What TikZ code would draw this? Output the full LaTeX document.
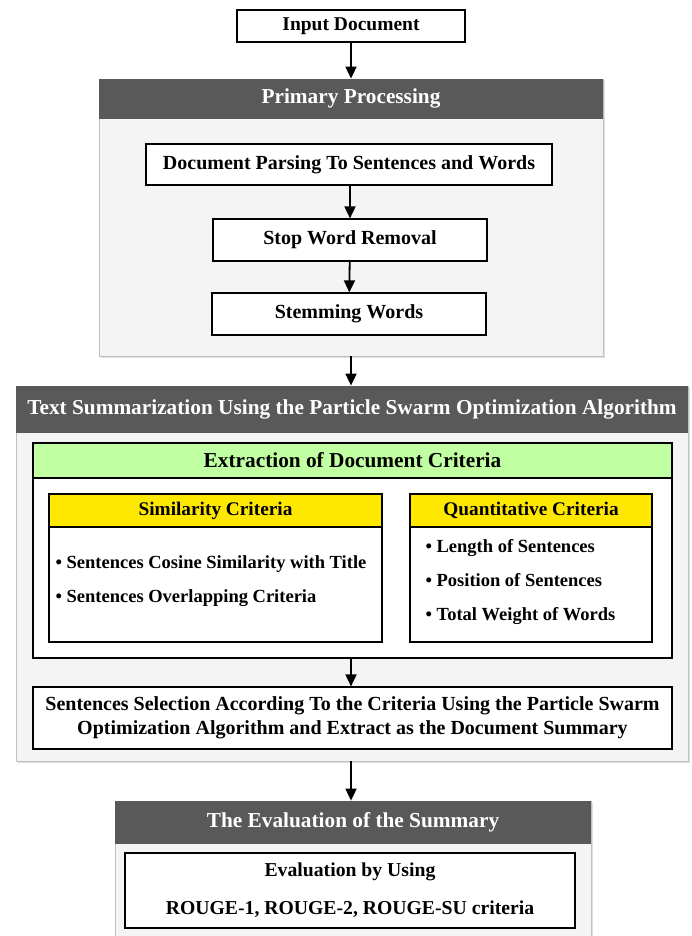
\documentclass[tikz,border=0pt]{standalone}
\usepackage{fontspec}
\setmainfont{Liberation Serif}
\usetikzlibrary{arrows.meta,positioning,shadows}
\definecolor{hdrcol}{HTML}{595959}
\definecolor{grncol}{HTML}{C0FFA2}
\definecolor{ylwcol}{HTML}{FFE800}
\definecolor{pancol}{HTML}{F4F4F4}

\begin{document}
\begin{tikzpicture}[x=1pt, y=-1pt,
  font=\bfseries\fontsize{20}{24}\selectfont,
  box/.style   = {draw, line width=1.2pt, fill=white, align=center, inner sep=0pt,
                  drop shadow={shadow xshift=1pt, shadow yshift=-1pt, opacity=0.3}},
  panel/.style = {draw=black!25, line width=0.8pt, fill=pancol, inner sep=0pt,
                  drop shadow={shadow xshift=1.5pt, shadow yshift=-1.5pt, opacity=0.25}},
  hdr/.style   = {fill=hdrcol, text=white, inner sep=0pt, anchor=north,
                  font=\bfseries\fontsize{21.3}{25}\selectfont},
  subhdr/.style= {draw, line width=1.2pt, inner sep=0pt, anchor=north,
                  font=\bfseries\fontsize{19.3}{23}\selectfont},
  items/.style = {anchor=west, align=left, font=\bfseries\fontsize{18.5}{34}\selectfont},
  arr/.style   = {-{Triangle[length=12pt, width=11pt]}, line width=1.8pt}]
\useasboundingbox (0,0) rectangle (692,936);

% input
\node[box, minimum width=228, minimum height=32, font=\bfseries\fontsize{19.5}{23}\selectfont]
  (inp) at (351,26) {Input Document};

% primary processing
\node[panel, minimum width=504, minimum height=277] (pp) at (351,217.5) {};
\node[hdr, minimum width=504, minimum height=40] (pph) at (pp.north) {Primary Processing};
\node[box, minimum width=406, minimum height=41] (parse) at (349,164.5)
  {Document Parsing To Sentences and Words};
\node[box, minimum width=274, minimum height=42] (stop) at (350,240) {Stop Word Removal};
\node[box, minimum width=274, minimum height=42] (stem) at (349,314) {Stemming Words};

% text summarization
\node[panel, minimum width=672, minimum height=375] (ts) at (352,573.5) {};
\node[hdr, minimum width=672, minimum height=47] (tsh) at (ts.north)
  {Text Summarization Using the Particle Swarm Optimization Algorithm};

\node[box, minimum width=639, minimum height=215] (ext) at (352.5,550.5) {};
\node[subhdr, fill=grncol, minimum width=639, minimum height=35,
      font=\bfseries\fontsize{21.3}{25}\selectfont] (exth) at (ext.north)
  {Extraction of Document Criteria};

\node[box, minimum width=333, minimum height=148] (sim) at (215.5,568) {};
\node[subhdr, fill=ylwcol, minimum width=333, minimum height=33] (simh) at (sim.north)
  {Similarity Criteria};
\node[items] (simtx) at (52,581)
  {• Sentences Cosine Similarity with Title\\ • Sentences Overlapping Criteria};

\node[box, minimum width=242, minimum height=148] (quant) at (531,568) {};
\node[subhdr, fill=ylwcol, minimum width=242, minimum height=33] (quanth) at (quant.north)
  {Quantitative Criteria};
\node[items] (quanttx) at (422,582)
  {• Length of Sentences\\ • Position of Sentences\\ • Total Weight of Words};

\node[box, minimum width=639, minimum height=62, font=\bfseries\fontsize{20}{24.5}\selectfont]
  (sel) at (352.5,718)
  {Sentences Selection According To the Criteria Using the Particle Swarm\\
   Optimization Algorithm and Extract as the Document Summary};

% evaluation
\node[panel, minimum width=476, minimum height=150] (ev) at (353,876) {};
\node[hdr, minimum width=476, minimum height=43] (evh) at (ev.north) {The Evaluation of the Summary};
\node[box, minimum width=450, minimum height=75, font=\bfseries\fontsize{19.7}{38}\selectfont]
  (evin) at (350,890.5) {Evaluation by Using\\ ROUGE-1, ROUGE-2, ROUGE-SU criteria};

% arrows
\draw[arr] (inp) -- (pp.north -| inp);
\draw[arr] (parse.south -| stop) -- (stop);
\draw[arr] (stop) -- (stem);
\draw[arr] (pp.south -| inp) -- (ts.north -| inp);
\draw[arr] (ext.south -| inp) -- (sel.north -| inp);
\draw[arr] (ts.south -| inp) -- (ev.north -| inp);
\end{tikzpicture}
\end{document}
